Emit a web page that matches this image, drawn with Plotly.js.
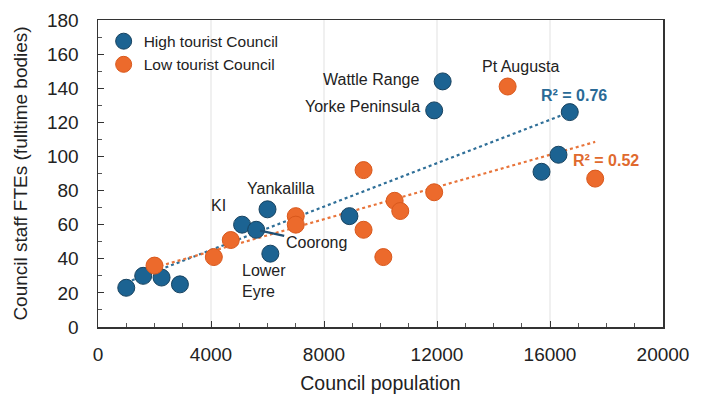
<!DOCTYPE html>
<html>
<head>
<meta charset="utf-8">
<script src="https://cdn.plot.ly/plotly-3.0.1.min.js"></script>
<style>
html,body{margin:0;padding:0;background:#fff;}
#chart{width:705px;height:403px;}
</style>
</head>
<body>
<div id="chart"></div>
<script>
// High tourist councils
const highPop = [1000, 1600, 2250, 2900, 5100, 5600, 6000, 6100, 8900, 11900, 12200, 16700, 16300, 15700];
const highFTE = [23, 30, 29, 25, 60, 57, 69, 43, 65, 127, 144, 126, 101, 91];
// Low tourist councils
const lowPop = [2000, 4100, 4700, 7000, 7000, 9400, 10100, 10500, 10700, 9400, 11900, 14500, 17600];
const lowFTE = [36, 41, 51, 65, 60, 57, 41, 74, 68, 92, 79, 141, 87];
const seriesNames = ["High tourist Council", "Low tourist Council"];
const r2Labels = ["R\u00b2 = 0.76", "R\u00b2 = 0.52"];

function linFit(xs, ys) {
  const n = xs.length;
  const mx = xs.reduce((a, b) => a + b, 0) / n;
  const my = ys.reduce((a, b) => a + b, 0) / n;
  let sxy = 0, sxx = 0;
  for (let i = 0; i < n; i++) { sxy += (xs[i] - mx) * (ys[i] - my); sxx += (xs[i] - mx) ** 2; }
  const m = sxy / sxx, b = my - m * mx;
  const x0 = Math.min(...xs), x1 = Math.max(...xs);
  return {x: [x0, x1], y: [m * x0 + b, m * x1 + b]};
}

const BLUE = "#1c6392", BLUE_EDGE = "#17425f";
const ORANGE = "#ec6a2c", ORANGE_EDGE = "#d9581c";
const FONT = "'Liberation Sans', Arial, sans-serif";

const fitH = linFit(highPop, highFTE);
const fitL = linFit(lowPop, lowFTE);

const traces = [
  {x: fitH.x, y: fitH.y, mode: "lines", showlegend: false, hoverinfo: "skip",
   line: {color: "#2f6f98", width: 2.2, dash: "dot"}},
  {x: fitL.x, y: fitL.y, mode: "lines", showlegend: false, hoverinfo: "skip",
   line: {color: "#e8743a", width: 2.2, dash: "dot"}},
  {x: highPop, y: highFTE, mode: "markers", name: seriesNames[0],
   marker: {color: BLUE, size: 17, line: {color: BLUE_EDGE, width: 1}}},
  {x: lowPop, y: lowFTE, mode: "markers", name: seriesNames[1],
   marker: {color: ORANGE, size: 17, line: {color: ORANGE_EDGE, width: 1}}}
];

const lab = {family: FONT, size: 16, color: "#222"};
const annotations = [
  {x: 11450, y: 145, text: "Wattle Range", xanchor: "right", showarrow: false, font: lab},
  {x: 11480, y: 129.5, text: "Yorke Peninsula", xanchor: "right", showarrow: false, font: lab},
  {x: 14960, y: 152.6, text: "Pt Augusta", xanchor: "center", showarrow: false, font: lab},
  {x: 4270, y: 71.5, text: "KI", xanchor: "center", showarrow: false, font: lab},
  {x: 6450, y: 81.5, text: "Yankalilla", xanchor: "center", showarrow: false, font: lab},
  {x: 5035, y: 26.7, text: "Lower<br>Eyre", xanchor: "left", align: "left", showarrow: false, font: lab},
  {x: 5600, y: 57, text: "Coorong", showarrow: true, arrowhead: 0, arrowwidth: 2.5, arrowcolor: "#1f4f73",
   ax: 60, ay: 13, standoff: 4, font: lab},
  {x: 15600, y: 136, text: "<b>" + r2Labels[0] + "</b>", xanchor: "left", showarrow: false,
   font: {family: FONT, size: 16, color: "#2a6a96"}},
  {x: 16740, y: 97.9, text: "<b>" + r2Labels[1] + "</b>", xanchor: "left", showarrow: false,
   font: {family: FONT, size: 16, color: "#e06a2e"}}
];

const layout = {
  width: 705, height: 403,
  margin: {l: 98, r: 42, t: 20, b: 76},
  paper_bgcolor: "#fff", plot_bgcolor: "#fff",
  font: {family: FONT, size: 19, color: "#222"},
  showlegend: true,
  legend: {x: 0.01, y: 0.985, xanchor: "left", yanchor: "top", bgcolor: "rgba(0,0,0,0)",
           font: {family: FONT, size: 15.5, color: "#222"}, tracegroupgap: 0, itemwidth: 30},
  xaxis: {
    range: [0, 20000], tick0: 0, dtick: 4000, tickformat: "d",
    showgrid: true, gridcolor: "#f0f0f0", gridwidth: 1.5, zeroline: false,
    showline: true, linecolor: "#333", linewidth: 1.5, mirror: true,
    ticks: "inside", ticklen: 6, tickcolor: "#333", ticklabelstandoff: 10,
    tickfont: {family: FONT, size: 19, color: "#222"},
    minor: {dtick: 1000, ticks: "inside", ticklen: 4, tickcolor: "#555", showgrid: false},
    title: {text: "Council population", font: {family: FONT, size: 19.5, color: "#222"}, standoff: 12}
  },
  yaxis: {
    range: [0, 180], tick0: 0, dtick: 20,
    showgrid: false, zeroline: false,
    showline: true, linecolor: "#333", linewidth: 1.5, mirror: true,
    ticks: "inside", ticklen: 6, tickcolor: "#333", ticklabelstandoff: 14,
    tickfont: {family: FONT, size: 19, color: "#222"},
    minor: {dtick: 10, ticks: "inside", ticklen: 4, tickcolor: "#555", showgrid: false},
    title: {text: "Council staff FTEs (fulltime bodies)", font: {family: FONT, size: 19, color: "#222"}, standoff: 14}
  },
  annotations: annotations
};

Plotly.newPlot("chart", traces, layout, {displayModeBar: false, staticPlot: true});
</script>
</body>
</html>
